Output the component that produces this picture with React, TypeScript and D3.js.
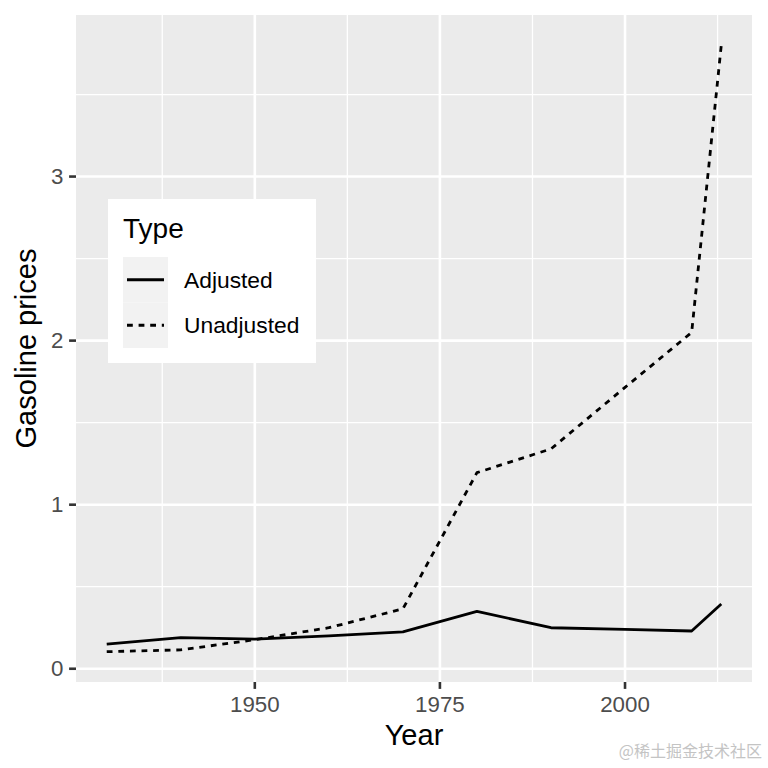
import React from "react";
import * as d3 from "d3";

const years = [1930, 1940, 1950, 1960, 1970, 1980, 1990, 2000, 2009, 2013];
const adjusted = [0.15, 0.19, 0.18, 0.2, 0.225, 0.35, 0.25, 0.24, 0.23, 0.395];
const unadjusted = [0.104, 0.115, 0.177, 0.25, 0.365, 1.195, 1.34, 1.715, 2.05, 3.8];
const seriesNames = ["Adjusted", "Unadjusted"];
const xMajor = [1950, 1975, 2000];
const xMinor = [1937.5, 1962.5, 1987.5, 2012.5];
const yMajor = [0, 1, 2, 3];
const yMinor = [0.5, 1.5, 2.5, 3.5];

const W = 768;
const H = 768;
const panel = { left: 76, right: 752, top: 15, bottom: 682 };
const FONT = "'Liberation Sans', Arial, Helvetica, sans-serif";
const DASH = "5.8 5.8";

function expand(min: number, max: number): [number, number] {
  const r = max - min;
  return [min - r * 0.05, max + r * 0.05];
}

export default function App() {
  const allY = [...adjusted, ...unadjusted];
  const x = d3
    .scaleLinear()
    .domain(expand(d3.min(years)!, d3.max(years)!))
    .range([panel.left, panel.right]);
  const y = d3
    .scaleLinear()
    .domain(expand(d3.min(allY)!, d3.max(allY)!))
    .range([panel.bottom, panel.top]);

  const line = d3
    .line<[number, number]>()
    .x((d) => x(d[0]))
    .y((d) => y(d[1]));

  const adjPts = years.map((yr, i) => [yr, adjusted[i]] as [number, number]);
  const unPts = years.map((yr, i) => [yr, unadjusted[i]] as [number, number]);

  const legendX = 108;
  const legendY = 199;
  const keyX = 123;
  const keyY = 257;
  const keyH = 45.5;

  return (
    <svg
      width={W}
      height={H}
      style={{ position: "absolute", left: 0, top: 0, background: "white" }}
      fontFamily={FONT}
    >
      <rect x={0} y={0} width={W} height={H} fill="white" />
      <rect
        x={panel.left}
        y={panel.top}
        width={panel.right - panel.left}
        height={panel.bottom - panel.top}
        fill="#ebebeb"
      />
      {xMinor.map((v) => (
        <line key={"xm" + v} x1={x(v)} x2={x(v)} y1={panel.top} y2={panel.bottom} stroke="white" strokeWidth={1.3} />
      ))}
      {yMinor.map((v) => (
        <line key={"ym" + v} y1={y(v)} y2={y(v)} x1={panel.left} x2={panel.right} stroke="white" strokeWidth={1.3} />
      ))}
      {xMajor.map((v) => (
        <line key={"xM" + v} x1={x(v)} x2={x(v)} y1={panel.top} y2={panel.bottom} stroke="white" strokeWidth={2.6} />
      ))}
      {yMajor.map((v) => (
        <line key={"yM" + v} y1={y(v)} y2={y(v)} x1={panel.left} x2={panel.right} stroke="white" strokeWidth={2.6} />
      ))}

      <path d={line(adjPts)!} fill="none" stroke="black" strokeWidth={2.8} strokeLinejoin="round" />
      <path d={line(unPts)!} fill="none" stroke="black" strokeWidth={2.8} strokeDasharray={DASH} strokeLinejoin="round" />

      {xMajor.map((v) => (
        <g key={"xt" + v}>
          <line x1={x(v)} x2={x(v)} y1={panel.bottom} y2={panel.bottom + 6.9} stroke="#333333" strokeWidth={2.6} />
          <text x={x(v)} y={711.5} textAnchor="middle" fontSize={22.3} fill="#4d4d4d">
            {v}
          </text>
        </g>
      ))}
      {yMajor.map((v) => (
        <g key={"yt" + v}>
          <line x1={panel.left - 6.9} x2={panel.left} y1={y(v)} y2={y(v)} stroke="#333333" strokeWidth={2.6} />
          <text x={63.5} y={y(v)} textAnchor="end" dominantBaseline="central" fontSize={22.3} fill="#4d4d4d">
            {v}
          </text>
        </g>
      ))}

      <text x={(panel.left + panel.right) / 2} y={745} textAnchor="middle" fontSize={29} fill="black">
        Year
      </text>
      <text
        transform={`translate(36, ${(panel.top + panel.bottom) / 2}) rotate(-90)`}
        textAnchor="middle"
        fontSize={29}
        fill="black"
      >
        Gasoline prices
      </text>

      <rect x={legendX} y={legendY} width={208} height={164} fill="white" />
      <text x={keyX} y={238} fontSize={28} fill="black">
        Type
      </text>
      {seriesNames.map((name, i) => {
        const cy = keyY + keyH * i + keyH / 2;
        return (
          <g key={name}>
            <rect x={keyX} y={keyY + keyH * i} width={45} height={keyH} fill="#f2f2f2" />
            <line
              x1={keyX + 4}
              x2={keyX + 41}
              y1={cy}
              y2={cy}
              stroke="black"
              strokeWidth={2.8}
              strokeDasharray={i === 1 ? DASH : undefined}
            />
            <text x={184} y={cy} dominantBaseline="central" fontSize={22.8} fill="black">
              {name}
            </text>
          </g>
        );
      })}

      <text
        x={762}
        y={757}
        textAnchor="end"
        fontSize={16}
        fill="#c4c4c4"
        fontFamily="'Noto Sans CJK SC', sans-serif"
      >
        @稀土掘金技术社区
      </text>
    </svg>
  );
}
